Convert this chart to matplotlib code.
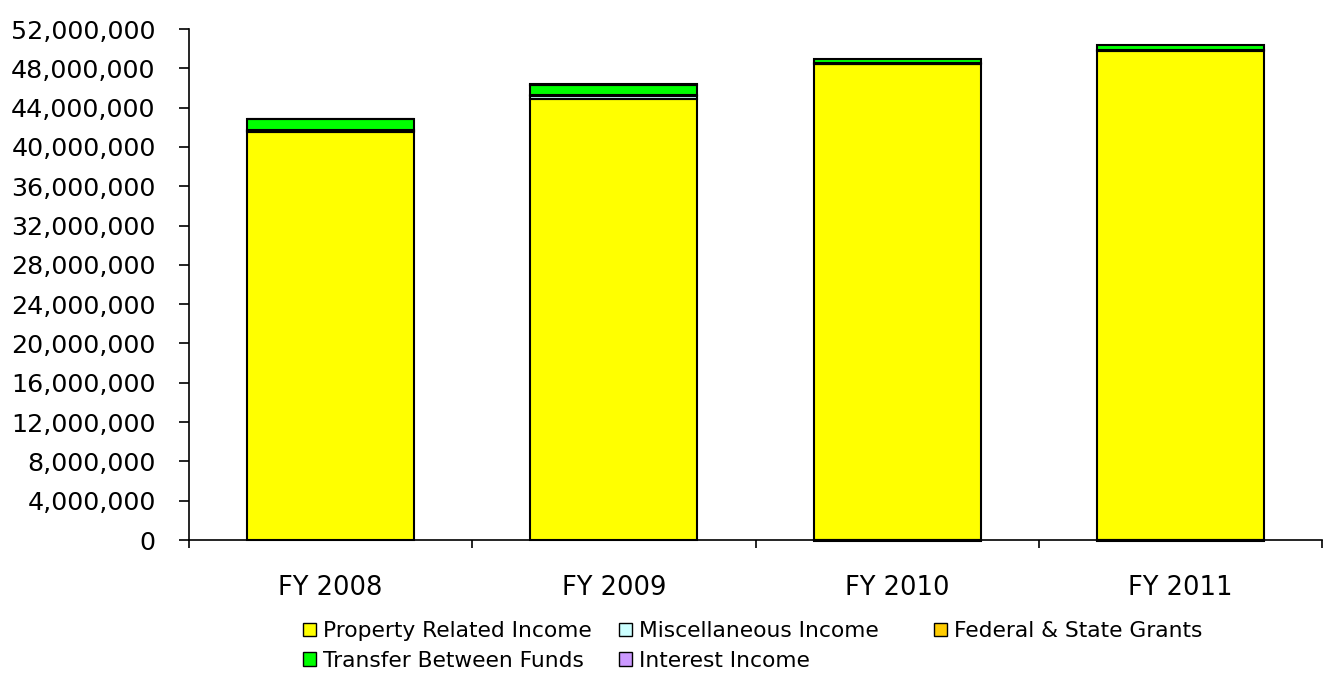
import matplotlib
matplotlib.use("Agg")
import matplotlib.patches as mpatches
import matplotlib.pyplot as plt
import numpy as np
from matplotlib.ticker import FuncFormatter, MultipleLocator

# Data (dollars)
years = ["FY 2008", "FY 2009", "FY 2010", "FY 2011"]
property_income = [41500000, 44900000, 48400000, 49800000]
misc_income = [150000, 300000, 50000, 50000]
federal_state = [50000, 50000, 50000, 20000]
transfer_funds = [1100000, 1100000, 450000, 500000]
interest_income = [50000, 100000, -120000, -120000]

series = [
    ("Property Related Income", property_income, "#FFFF00"),
    ("Miscellaneous Income", misc_income, "#CCFFFF"),
    ("Federal & State Grants", federal_state, "#FFCC00"),
    ("Transfer Between Funds", transfer_funds, "#00FF00"),
    ("Interest Income", interest_income, "#CC99FF"),
]

fig = plt.figure(figsize=(13.24, 6.77), dpi=100)
ax = fig.add_axes([189 / 1324, 1 - 540 / 677, 1133 / 1324, 511 / 677])

x = np.arange(len(years))
pos_bottom = np.zeros(len(years))
neg_bottom = np.zeros(len(years))
handles = {}
for name, vals, color in series:
    vals = np.array(vals, dtype=float)
    bottom = np.where(vals >= 0, pos_bottom, neg_bottom)
    ax.bar(x, vals, width=0.59, bottom=bottom, color=color,
           edgecolor="black", linewidth=1.5, zorder=2, clip_on=False)
    pos_bottom += np.where(vals >= 0, vals, 0)
    neg_bottom += np.where(vals < 0, vals, 0)
    handles[name] = mpatches.Patch(facecolor=color, edgecolor="black",
                                   linewidth=1.0, label=name)

ax.set_xlim(-0.5, len(years) - 0.5)
ax.set_ylim(0, 52000000)
ax.yaxis.set_major_locator(MultipleLocator(4000000))
ax.yaxis.set_major_formatter(FuncFormatter(lambda v, p: f"{int(v):,}"))

ax.set_xticks(x)
ax.set_xticklabels(years)
ax.set_xticks(np.arange(-0.5, len(years), 1.0), minor=True)
ax.tick_params(axis="x", which="major", length=0, pad=25, labelsize=18.5)
ax.tick_params(axis="x", which="minor", length=6, width=1.2, direction="out")
ax.tick_params(axis="y", length=7, width=1.2, direction="out", pad=17,
               labelsize=18.3)

for side in ("top", "right"):
    ax.spines[side].set_visible(False)
ax.spines["left"].set_linewidth(1.2)
ax.spines["bottom"].set_linewidth(1.2)
ax.spines["bottom"].set_zorder(1)

# Legend, laid out in equal-width columns like the original
columns = [
    (303, ["Property Related Income", "Transfer Between Funds"]),
    (619, ["Miscellaneous Income", "Interest Income"]),
    (934, ["Federal & State Grants"]),
]
for xpix, names in columns:
    fig.legend(
        handles=[handles[n] for n in names],
        loc="upper left",
        bbox_to_anchor=(xpix / 1324, 1 - 621 / 677),
        frameon=False,
        fontsize=15.7,
        borderpad=0,
        borderaxespad=0,
        handlelength=0.58,
        handleheight=0.58,
        handletextpad=0.32,
        labelspacing=0.45,
    )

fig.savefig("out.png", dpi=100)
